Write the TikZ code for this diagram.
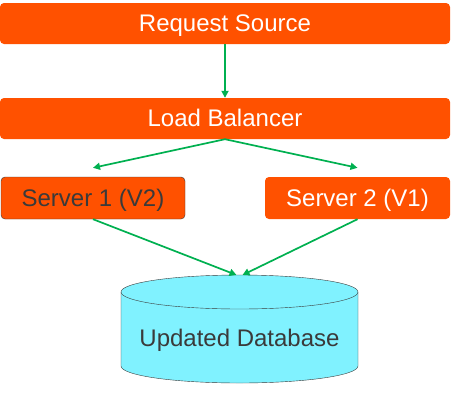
\documentclass[tikz,border=0pt]{standalone}
\usepackage{fontspec}
\setmainfont{Liberation Sans}
\usetikzlibrary{arrows.meta,positioning}
\definecolor{boxorange}{HTML}{FF5100}
\definecolor{linkgreen}{HTML}{00B050}
\definecolor{dbcyan}{HTML}{80F2FF}
\definecolor{darktext}{HTML}{3A3A3A}

\begin{document}
\begin{tikzpicture}[x=1pt,y=1pt,
  every node/.style={font=\fontsize{24}{28}\selectfont,text height=21pt,text depth=5pt},
  box/.style={fill=boxorange,text=white,rounded corners=4pt,inner sep=0pt,minimum height=41pt},
  link/.style={draw=linkgreen,line width=1.7pt,-{Triangle[length=7pt,width=7pt]}}]
\useasboundingbox (0,0) rectangle (476,-418);
\node[box,minimum width=450pt] (rs) at (225,-23.5) {Request Source};
\node[box,minimum width=450pt] (lb) at (225,-118.5) {Load Balancer};
\node[box,minimum width=184pt,minimum height=42pt,draw=darktext,thin,text=darktext] (s1) at (93,-198) {Server 1 (V2)};
\node[box,minimum width=185pt,minimum height=42pt] (s2) at (357.5,-198) {Server 2 (V1)};
% database cylinder
\fill[dbcyan] (121,-292) -- (121,-366) arc (180:360:118.5pt and 17pt) -- (358,-292) arc (0:180:118.5pt and 17pt) -- cycle;
\draw[darktext,thin] (121,-292) -- (121,-366) arc (180:360:118.5pt and 17pt) -- (358,-292);
\draw[darktext,thin] (239.5,-292) ellipse (118.5pt and 17pt);
\coordinate (dbtop) at (239.5,-275);
\node[text=darktext] (db) at (239.5,-338) {Updated Database};
\draw[link] (rs.south) -- (lb.north);
\draw[link] (lb.south) -- ([yshift=9pt]s1.north);
\draw[link] (lb.south) -- ([yshift=9pt]s2.north);
\draw[link] (s1.south) -- ([xshift=-3pt]dbtop);
\draw[link] (s2.south) -- ([xshift=3pt]dbtop);
\end{tikzpicture}
\end{document}
